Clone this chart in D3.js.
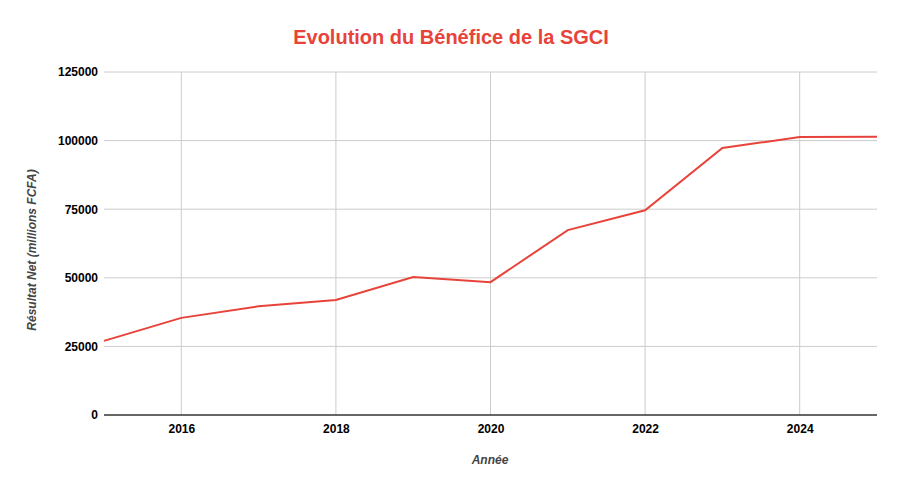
<!DOCTYPE html>
<html>
<head>
<meta charset="utf-8">
<script src="https://cdn.jsdelivr.net/npm/d3@7"></script>
<style>
  body { margin: 0; background: #fff; }
  text { font-family: "Liberation Sans", Arial, sans-serif; }
</style>
</head>
<body>
<div id="chart"></div>
<script>
// data
var years = [2015, 2016, 2017, 2018, 2019, 2020, 2021, 2022, 2023, 2024, 2025];
var benefice = [27000, 35400, 39600, 41900, 50300, 48400, 67400, 74600, 97300, 101300, 101400];
var yTicks = [0, 25000, 50000, 75000, 100000, 125000];
var xTicks = [2016, 2018, 2020, 2022, 2024];

var width = 901, height = 492;
var margin = { top: 72, right: 24, bottom: 77, left: 104 };

var svg = d3.select("#chart").append("svg").attr("width", width).attr("height", height);

var x = d3.scaleLinear().domain([2015, 2025]).range([margin.left, width - margin.right]);
var y = d3.scaleLinear().domain([0, 125000]).range([height - margin.bottom, margin.top]);

// grid
svg.append("g").selectAll("line").data(yTicks.slice(1)).join("line")
  .attr("x1", x(2015)).attr("x2", x(2025))
  .attr("y1", d => y(d)).attr("y2", d => y(d))
  .attr("stroke", "#cccccc").attr("stroke-width", 1);
svg.append("g").selectAll("line").data(xTicks).join("line")
  .attr("x1", d => x(d)).attr("x2", d => x(d))
  .attr("y1", y(0)).attr("y2", y(125000))
  .attr("stroke", "#cccccc").attr("stroke-width", 1);

// baseline
svg.append("line")
  .attr("x1", x(2015)).attr("x2", x(2025))
  .attr("y1", y(0)).attr("y2", y(0))
  .attr("stroke", "#333333").attr("stroke-width", 1.3);

// axes labels
var yAxis = d3.axisLeft(y).tickValues(yTicks).tickSize(0).tickPadding(6).tickFormat(d3.format("d"));
var gy = svg.append("g").attr("transform", "translate(" + margin.left + ",0)").call(yAxis);
gy.select(".domain").remove();
gy.selectAll("text").attr("font-size", 12).attr("font-weight", "bold").attr("fill", "#000");

var xAxis = d3.axisBottom(x).tickValues(xTicks).tickSize(0).tickPadding(9).tickFormat(d3.format("d"));
var gx = svg.append("g").attr("transform", "translate(0," + y(0) + ")").call(xAxis);
gx.select(".domain").remove();
gx.selectAll("text").attr("font-size", 12).attr("font-weight", "bold").attr("fill", "#000");

// line
var line = d3.line().x((d, i) => x(years[i])).y(d => y(d));
svg.append("path").datum(benefice)
  .attr("d", line)
  .attr("fill", "none")
  .attr("stroke", "#e8433a")
  .attr("stroke-width", 2);

// titles
svg.append("text")
  .attr("x", 451).attr("y", 44)
  .attr("text-anchor", "middle")
  .attr("font-size", 20).attr("font-weight", "bold")
  .attr("fill", "#e8433a")
  .text("Evolution du Bénéfice de la SGCI");

svg.append("text")
  .attr("x", 490).attr("y", 464)
  .attr("text-anchor", "middle")
  .attr("font-size", 12).attr("font-weight", "bold").attr("font-style", "italic")
  .attr("fill", "#444")
  .text("Année");

svg.append("text")
  .attr("transform", "translate(36,250) rotate(-90)")
  .attr("text-anchor", "middle")
  .attr("font-size", 12).attr("font-weight", "bold").attr("font-style", "italic")
  .attr("fill", "#444")
  .text("Résultat Net (millions FCFA)");
</script>
</body>
</html>
